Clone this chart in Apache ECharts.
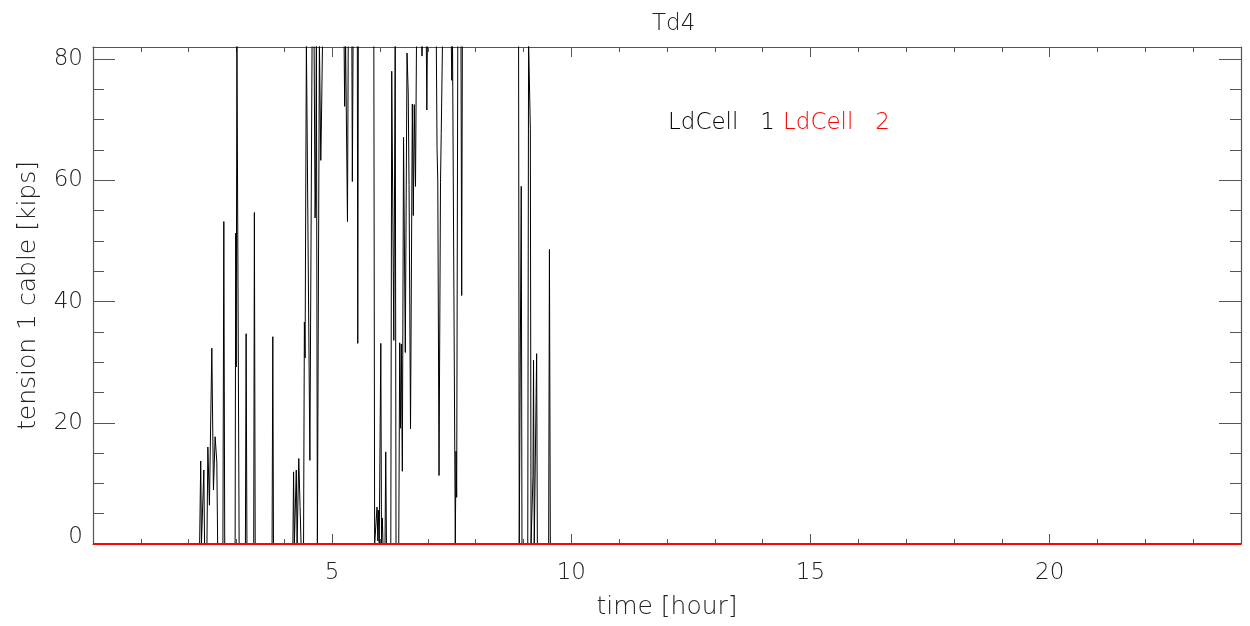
<!DOCTYPE html>
<html>
<head>
<meta charset="utf-8">
<script src="https://cdn.jsdelivr.net/npm/echarts@6/dist/echarts.min.js"></script>
<style>html,body{margin:0;padding:0;background:#fff}#chart{width:1250px;height:626px}</style>
</head>
<body>
<div id="chart"></div>
<script>
// ---- data ----
const titleText = 'Td4';
const seriesNames = ['LdCell   1', 'LdCell   2'];
const xAxisTitle = 'time [hour]';
const yAxisTitle = 'tension 1 cable [kips]';
const xRange = [0, 24];
const yRange = [0, 82];
const xMajorStep = 5;
const xMinorStep = 1;
const yMajorStep = 20;
const yMinorStep = 5;

// LdCell 1: [time (hour), tension (kips)]; 83 = saturated above the plotted range
const ldCell1 = [
  [0, 0], [2.229, 0], [2.252, 13.7], [2.267, 0], [2.298, 0], [2.317, 12.2], [2.332, 0],
  [2.382, 0], [2.401, 16.0], [2.434, 6.4], [2.484, 32.3], [2.518, 8.9], [2.553, 17.7],
  [2.589, 13.5], [2.606, 0], [2.716, 0], [2.735, 53.2], [2.754, 0], [2.971, 0],
  [2.984, 51.3], [2.994, 29.2], [3.009, 83], [3.040, 83], [3.055, 0], [3.186, 0],
  [3.201, 34.7], [3.218, 0], [3.360, 0], [3.374, 54.7], [3.391, 0], [3.744, 0],
  [3.759, 34.2], [3.773, 0],
  [4.179, 0], [4.193, 11.9], [4.210, 0], [4.235, 0], [4.250, 12.2], [4.267, 0],
  [4.287, 0], [4.302, 14.1], [4.329, 6.2], [4.350, 0], [4.402, 0], [4.419, 36.6],
  [4.434, 30.7], [4.461, 83], [4.496, 83], [4.534, 13.8], [4.580, 83], [4.622, 83],
  [4.643, 53.8], [4.653, 57.6], [4.670, 83], [4.691, 0], [4.716, 0], [4.733, 83],
  [4.747, 83], [4.762, 63.3], [4.774, 68.8], [4.799, 83], [5.249, 83], [5.261, 72.2],
  [5.280, 83], [5.320, 53.2], [5.336, 83], [5.412, 83], [5.422, 59.8], [5.437, 83],
  [5.526, 83], [5.535, 33.1], [5.547, 83], [5.871, 83], [5.888, 0],
  [5.928, 0], [5.938, 6.1], [5.955, 0.5], [5.965, 5.6], [5.984, 0], [6.005, 0],
  [6.017, 33.1], [6.032, 0], [6.049, 4.3], [6.063, 0], [6.105, 0], [6.120, 15.2],
  [6.135, 0], [6.226, 0], [6.245, 78.0], [6.289, 33.6], [6.318, 83], [6.335, 0],
  [6.392, 0], [6.412, 33.2], [6.429, 19.1], [6.446, 33.0], [6.467, 12.0], [6.492, 67.1],
  [6.529, 31.6], [6.565, 81.0], [6.590, 74.4], [6.607, 59.3], [6.638, 19.0], [6.676, 72.6],
  [6.697, 54.2], [6.717, 72.5], [6.742, 59.0], [6.763, 83], [6.868, 83], [6.878, 80.5],
  [6.889, 83], [6.968, 83], [6.979, 71.6], [6.991, 83], [7.177, 83], [7.192, 65.4],
  [7.208, 59.9], [7.234, 11.3], [7.265, 59.6], [7.280, 67.7], [7.307, 83], [7.490, 83],
  [7.501, 76.5], [7.516, 83], [7.557, 83], [7.574, 0], [7.589, 15.3], [7.603, 7.7],
  [7.626, 83], [7.693, 83], [7.708, 41.0], [7.722, 83], [8.897, 83], [8.911, 0],
  [8.938, 0], [8.953, 59.0], [8.968, 0], [9.089, 0], [9.106, 83], [9.126, 83],
  [9.143, 68.6], [9.158, 0], [9.185, 0], [9.198, 11.1], [9.210, 30.3], [9.225, 0],
  [9.260, 0], [9.275, 31.4], [9.290, 0], [9.526, 0], [9.542, 48.6], [9.561, 0],
  [24, 0]
];

// LdCell 2: flat at zero the whole day
const ldCell2 = [[0, 0], [24, 0]];

// ---- styling ----
const FONT = "'DejaVu Sans'";
const FW = 200;
const TEXT = '#222';
const AXIS = '#555';
const FS = 23;
const NFS = 25;

const chart = echarts.init(document.getElementById('chart'), null, {renderer: 'canvas'});

function xAx(pos, step, tickLen, main) {
  return {
    type: 'value', position: pos, min: xRange[0], max: xRange[1], interval: step,
    axisLine: {show: main, onZero: false, lineStyle: {color: AXIS, width: 1.2}},
    axisTick: {show: true, inside: true, length: tickLen, lineStyle: {color: AXIS, width: 1}},
    axisLabel: {show: main && pos === 'bottom', showMinLabel: false, showMaxLabel: false,
      fontFamily: FONT, fontWeight: FW, fontSize: FS, color: TEXT, margin: 18},
    splitLine: {show: false},
    name: (main && pos === 'bottom') ? xAxisTitle : '',
    nameLocation: 'middle', nameGap: 51,
    nameTextStyle: {fontFamily: FONT, fontWeight: FW, fontSize: NFS, color: TEXT}
  };
}
function yAx(pos, step, tickLen, main) {
  return {
    type: 'value', position: pos, min: yRange[0], max: yRange[1], interval: step,
    axisLine: {show: main, onZero: false, lineStyle: {color: AXIS, width: 1.2}},
    axisTick: {show: true, inside: true, length: tickLen, lineStyle: {color: AXIS, width: 1}},
    axisLabel: {show: main && pos === 'left', showMinLabel: true, showMaxLabel: false,
      fontFamily: FONT, fontWeight: FW, fontSize: FS, color: TEXT, margin: 10,
      formatter: v => v === 0 ? '{z|0}' : String(v),
      rich: {z: {fontFamily: FONT, fontWeight: FW, fontSize: FS, color: TEXT, padding: [0, 0, 14, 0]}}},
    splitLine: {show: false},
    name: (main && pos === 'left') ? yAxisTitle : '',
    nameLocation: 'middle', nameGap: 52,
    nameTextStyle: {fontFamily: FONT, fontWeight: FW, fontSize: NFS, color: TEXT}
  };
}

const option = {
  backgroundColor: '#fff',
  animation: false,
  title: {text: titleText, left: 647, top: 8,
    textStyle: {fontFamily: FONT, fontSize: FS, fontWeight: FW, color: TEXT}},
  legend: {
    left: 658, top: 107, itemWidth: 0, itemHeight: 0, itemGap: 3, icon: 'rect',
    selectedMode: false,
    textStyle: {fontFamily: FONT, fontWeight: FW, fontSize: FS},
    data: [
      {name: seriesNames[0], textStyle: {color: '#000'}},
      {name: seriesNames[1], textStyle: {color: '#ff0000'}}
    ]
  },
  grid: {left: 93, right: 9, top: 47, bottom: 82, containLabel: false},
  xAxis: [
    xAx('bottom', xMajorStep, 10, true),
    xAx('bottom', xMinorStep, 5, false),
    xAx('top', xMajorStep, 10, true),
    xAx('top', xMinorStep, 5, false)
  ],
  yAxis: [
    yAx('left', yMajorStep, 22, true),
    yAx('left', yMinorStep, 11, false),
    yAx('right', yMajorStep, 22, true),
    yAx('right', yMinorStep, 11, false)
  ],
  series: [
    {name: seriesNames[0], type: 'line', data: ldCell1, xAxisIndex: 0, yAxisIndex: 0,
      showSymbol: false, symbol: 'none', clip: true,
      lineStyle: {color: '#000', width: 1}, itemStyle: {color: '#000'}, z: 3},
    {name: seriesNames[1], type: 'line', data: ldCell2, xAxisIndex: 0, yAxisIndex: 0,
      showSymbol: false, symbol: 'none',
      lineStyle: {color: '#ff0000', width: 2}, itemStyle: {color: '#ff0000'}, z: 4}
  ]
};
chart.setOption(option);
</script>
</body>
</html>
